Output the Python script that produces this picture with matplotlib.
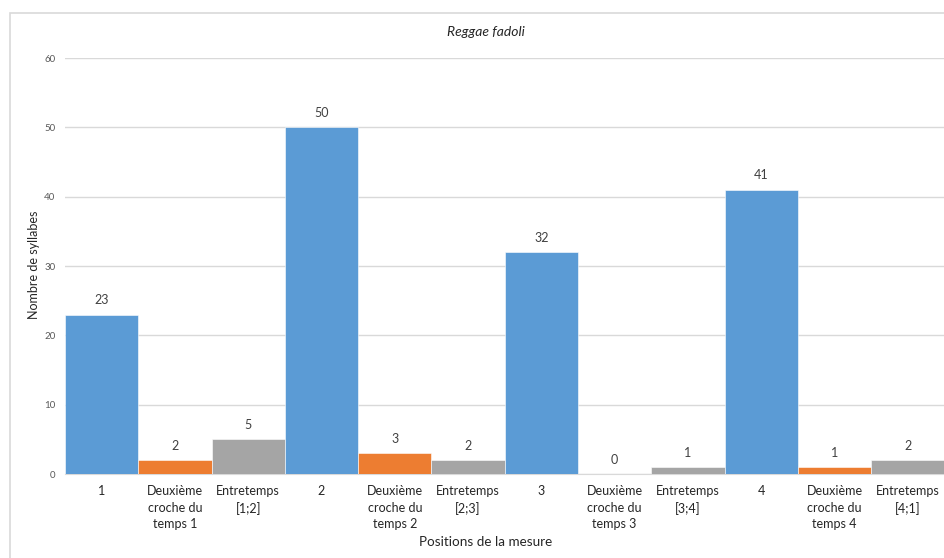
import matplotlib
matplotlib.use("Agg")
import matplotlib.pyplot as plt
from matplotlib.patches import Rectangle

categories = ["1", "Deuxième\ncroche du\ntemps 1", "Entretemps\n[1;2]",
              "2", "Deuxième\ncroche du\ntemps 2", "Entretemps\n[2;3]",
              "3", "Deuxième\ncroche du\ntemps 3", "Entretemps\n[3;4]",
              "4", "Deuxième\ncroche du\ntemps 4", "Entretemps\n[4;1]"]
values = [23, 2, 5, 50, 3, 2, 32, 0, 1, 41, 1, 2]
palette = ["#5B9BD5", "#ED7D31", "#A5A5A5"]
yticks = [0, 10, 20, 30, 40, 50, 60]

plt.rcParams['font.family'] = ['Lato', 'DejaVu Sans']

W, H = 944, 558
fig = plt.figure(figsize=(W/100, H/100), dpi=100)
fig.patches.append(Rectangle((10/W, -0.1), 1.2, 1 - 13/H + 0.1, transform=fig.transFigure,
                             fill=False, edgecolor="#d9d9d9", linewidth=1.2))

ax = fig.add_axes([65/W, 1 - 474/H, 1 - 65/W + 0.0005, (474 - 58)/H])
x = list(range(len(categories)))
colors = [palette[i % 3] for i in x]
ax.bar(x, values, width=1.0, color=colors, edgecolor="white", linewidth=0.4, zorder=3)
ax.set_xlim(-0.5, len(categories) - 0.5)
ax.set_ylim(0, 60)
ax.set_yticks(yticks)
ax.yaxis.grid(True, color="#d9d9d9", linewidth=1)
ax.set_axisbelow(True)
for s in ["top", "right", "left"]:
    ax.spines[s].set_visible(False)
ax.spines["bottom"].set_color("#d9d9d9")
ax.tick_params(axis="y", length=0, labelsize=7, labelcolor="#595959", pad=7)
ax.tick_params(axis="x", length=0, labelsize=9, labelcolor="#262626", pad=8)
ax.set_xticks(x)
ax.set_xticklabels(categories, linespacing=1.45)

for xi, v in zip(x, values):
    ax.annotate(str(v), (xi, v), xytext=(0, 6), textcoords="offset points",
                ha="center", va="bottom", fontsize=9, color="#404040")

fig.text(486/W, 1 - 32/H, "Reggae fadoli", ha="center", va="center",
         fontsize=10, style="italic", color="#262626")
fig.text(34/W, 1 - 265/H, "Nombre de syllabes", rotation=90, ha="center", va="center",
         fontsize=9, color="#262626")
fig.text(486/W, 1 - 542/H, "Positions de la mesure", ha="center", va="center",
         fontsize=9.7, color="#262626")

fig.savefig("out.png", dpi=100)
